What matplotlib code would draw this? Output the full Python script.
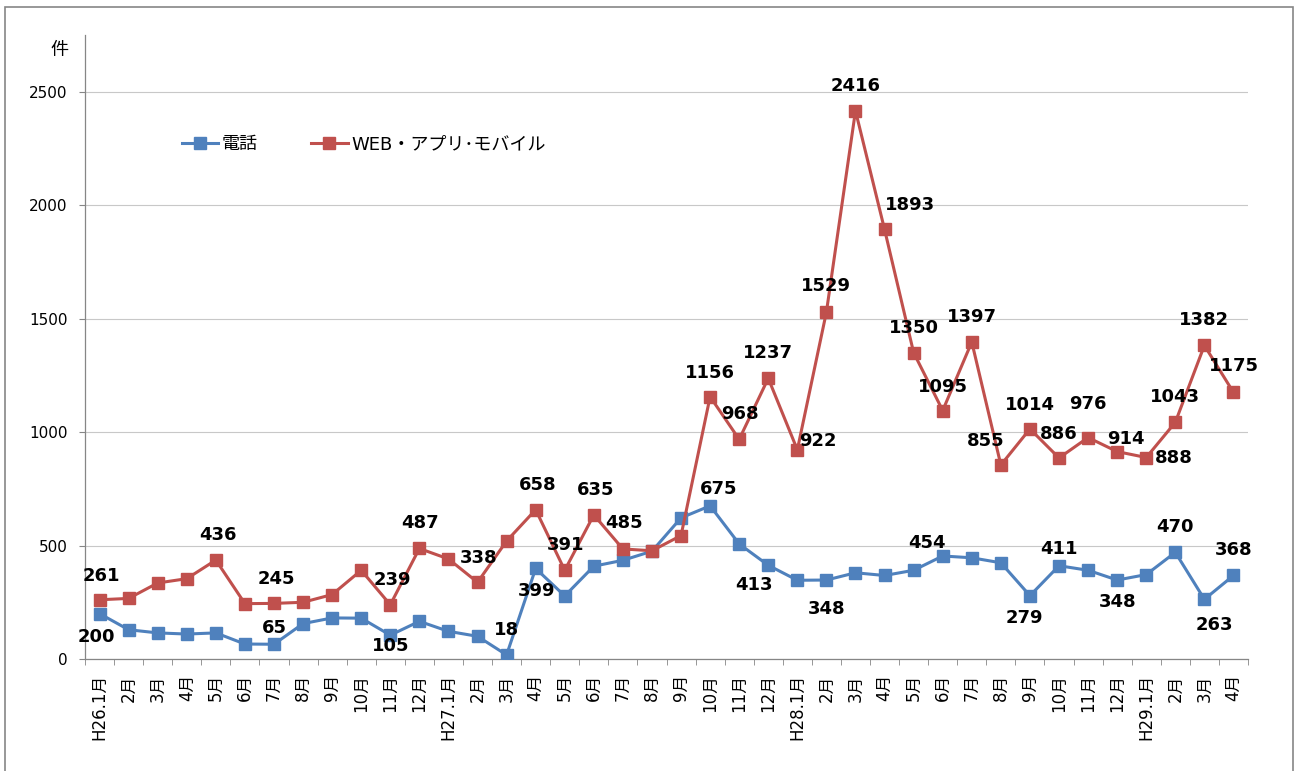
import matplotlib
matplotlib.use("Agg")
import matplotlib.pyplot as plt
import numpy as np
from matplotlib.patches import Rectangle

plt.rcParams["font.family"] = ["DejaVu Sans", "Noto Sans CJK JP"]

months = [
    "H26.1月", "2月", "3月", "4月", "5月", "6月", "7月", "8月", "9月", "10月", "11月", "12月",
    "H27.1月", "2月", "3月", "4月", "5月", "6月", "7月", "8月", "9月", "10月", "11月", "12月",
    "H28.1月", "2月", "3月", "4月", "5月", "6月", "7月", "8月", "9月", "10月", "11月", "12月",
    "H29.1月", "2月", "3月", "4月",
]
phone = [200, 129, 115, 110, 115, 66, 65, 156, 181, 180, 105, 166, 122, 100, 18, 399, 278, 409, 435, 475,
         622, 675, 507, 413, 347, 348, 380, 368, 391, 454, 446, 424, 279, 411, 391, 348, 372, 470, 263, 368]
web = [261, 267, 335, 354, 436, 244, 245, 250, 284, 391, 239, 487, 441, 338, 520, 658, 391, 635, 485, 477,
       544, 1156, 968, 1237, 922, 1529, 2416, 1893, 1350, 1095, 1397, 855, 1014, 886, 976, 914, 888, 1043, 1382, 1175]

# label offsets in pixels (dx, dy up), keyed by point index
phone_labels = {0: (-3, -23), 6: (0, 16), 10: (0, -11), 14: (0, 25), 15: (1, -23), 21: (9, 17),
                23: (-14, -20), 25: (0, -29), 29: (-16, 13), 32: (-6, -22), 33: (0, 17),
                35: (0, -22), 37: (0, 25), 38: (10, -26), 39: (0, 25)}
web_labels = {0: (2, 24), 4: (2, 25), 6: (2, 24), 10: (2, 25), 11: (1, 25), 13: (1, 24), 15: (2, 25),
              16: (1, 25), 17: (2, 25), 18: (1, 26), 21: (0, 24), 22: (1, 25), 23: (0, 25), 24: (21, 9),
              25: (0, 26), 26: (0, 25), 27: (25, 24), 28: (0, 25), 29: (0, 24), 30: (0, 25),
              31: (-15, 24), 32: (0, 24), 33: (0, 24), 34: (0, 34), 35: (9, 13), 36: (28, 0),
              37: (0, 25), 38: (0, 25), 39: (0, 26)}

BLUE = "#4F81BD"
RED = "#C0504D"
GRAY = "#868686"
W, H = 1298, 771

fig = plt.figure(figsize=(W / 100, H / 100), dpi=100)
ax = fig.add_axes([85 / W, 1 - 659 / H, (1248 - 85) / W, (659 - 35) / H])

x = np.arange(len(months))
ax.plot(x, phone, color=BLUE, lw=2.2, marker="s", ms=8.5, label="電話", zorder=3)
ax.plot(x, web, color=RED, lw=2.2, marker="s", ms=8.5, label="WEB・アプリ･モバイル", zorder=4)

for vals, offs in ((phone, phone_labels), (web, web_labels)):
    for i, (dx, dy) in offs.items():
        ax.annotate(str(vals[i]), (i, vals[i]), xytext=(dx * 0.72, dy * 0.72),
                    textcoords="offset points", ha="center", va="center",
                    fontsize=13, fontweight="bold", color="black", zorder=5)

ax.set_xlim(-0.5, len(months) - 0.5)
ax.set_ylim(0, 2750)
ax.set_yticks(range(0, 2501, 500))
ax.yaxis.grid(True, color="#c8c8c8", lw=0.8)
ax.set_axisbelow(True)

ax.set_xticks(x)
ax.set_xticklabels(months, rotation=90, va="top", ha="center", fontsize=12)
ax.set_xticks(np.arange(-0.5, len(months), 1), minor=True)
ax.tick_params(axis="x", which="major", length=0, pad=11)
ax.tick_params(axis="x", which="minor", length=4.5, color=GRAY)
ax.tick_params(axis="y", length=4.5, color=GRAY, labelsize=11, pad=8)

for s in ("top", "right"):
    ax.spines[s].set_visible(False)
for s in ("left", "bottom"):
    ax.spines[s].set_color(GRAY)
    ax.spines[s].set_linewidth(0.9)

ax.legend(loc="center left", bbox_to_anchor=(0.083, 0.825), ncol=2, frameon=False,
          fontsize=13, handlelength=2.0, handletextpad=0.2, columnspacing=3.0,
          borderpad=0, borderaxespad=0)

fig.text(68 / W, 1 - 50 / H, "件", ha="right", va="center", fontsize=13)

fig.patches.append(Rectangle((4.5 / W, -0.01), (1293 - 4.5) / W, 1.01 - 6.5 / H,
                             transform=fig.transFigure, fill=False, edgecolor=GRAY, lw=1.2))

fig.savefig("out.png", dpi=100)
